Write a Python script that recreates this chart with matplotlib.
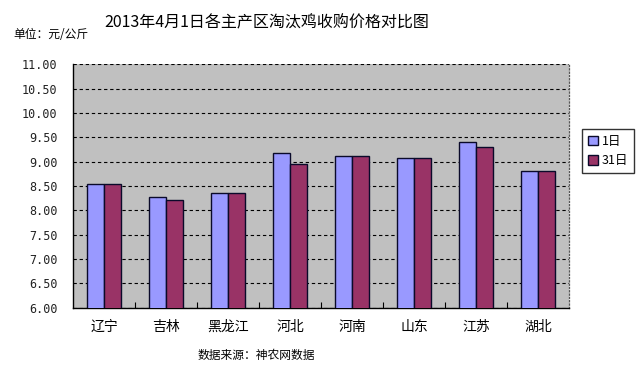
import numpy as np
import matplotlib
matplotlib.use("Agg")
import matplotlib.pyplot as plt
from matplotlib.ticker import FixedLocator

plt.rcParams['font.family'] = ['Noto Sans CJK SC', 'DejaVu Sans']

# Data
provinces = ['辽宁', '吉林', '黑龙江', '河北', '河南', '山东', '江苏', '湖北']
day1 = [8.54, 8.27, 8.35, 9.17, 9.11, 9.07, 9.40, 8.82]
day31 = [8.54, 8.21, 8.35, 8.95, 9.11, 9.07, 9.30, 8.82]
series_names = ['1日', '31日']
yticks = np.arange(6.0, 11.01, 0.5)

fig = plt.figure(figsize=(6.41, 3.67), dpi=100)
ax = fig.add_axes([0.1139, 0.1616, 0.8877 - 0.1139, 0.8243 - 0.1616])
ax.set_facecolor('#C0C0C0')

x = np.arange(len(provinces))
w = 0.275
ax.bar(x - w / 2, day1, w, color='#9999FF', edgecolor='#0A0A2A',
       linewidth=1.0, label=series_names[0], zorder=3)
ax.bar(x + w / 2, day31, w, color='#993366', edgecolor='#0A0A2A',
       linewidth=1.0, label=series_names[1], zorder=3)

ax.set_ylim(6.0, 11.0)
ax.set_xlim(-0.5, len(provinces) - 0.5)
ax.set_yticks(yticks)
ax.set_yticklabels([f'{v:.2f}' for v in yticks], family='DejaVu Sans Mono',
                   fontsize=8.5, color='#222222')
ax.yaxis.grid(True, color='black', linestyle=(0, (3, 2.5)), linewidth=0.8,
              zorder=1)
ax.tick_params(axis='y', length=0, pad=11)

ax.set_xticks(x)
ax.set_xticklabels(provinces, fontsize=10)
ax.tick_params(axis='x', which='major', length=0, pad=9)
ax.xaxis.set_minor_locator(FixedLocator(np.arange(0.5, len(provinces) - 1, 1)))
ax.tick_params(axis='x', which='minor', direction='in', length=4, width=0.8)

for side in ['left', 'bottom']:
    ax.spines[side].set_color('black')
    ax.spines[side].set_linewidth(1.0)
ax.spines['top'].set_visible(False)
ax.spines['right'].set_color('#555555')
ax.spines['right'].set_linestyle(':')
ax.spines['right'].set_linewidth(0.9)

fig.text(267 / 641, 1 - 23 / 367, '2013年4月1日各主产区淘汰鸡收购价格对比图',
         ha='center', va='center', fontsize=11.5)
fig.text(13 / 641, 1 - 34 / 367, '单位：元/公斤', ha='left', va='center',
         fontsize=8.5)
fig.text(256 / 641, 1 - 355 / 367, '数据来源：神农网数据', ha='center',
         va='center', fontsize=8.5)

leg = fig.legend(loc='center', bbox_to_anchor=(608 / 641, 1 - 151 / 367),
                 frameon=True, fancybox=False, edgecolor='black',
                 fontsize=9, handlelength=0.8, handleheight=0.8,
                 handletextpad=0.3, borderpad=0.5, labelspacing=0.5)
leg.get_frame().set_linewidth(1.0)

fig.savefig('out.png', dpi=100)
